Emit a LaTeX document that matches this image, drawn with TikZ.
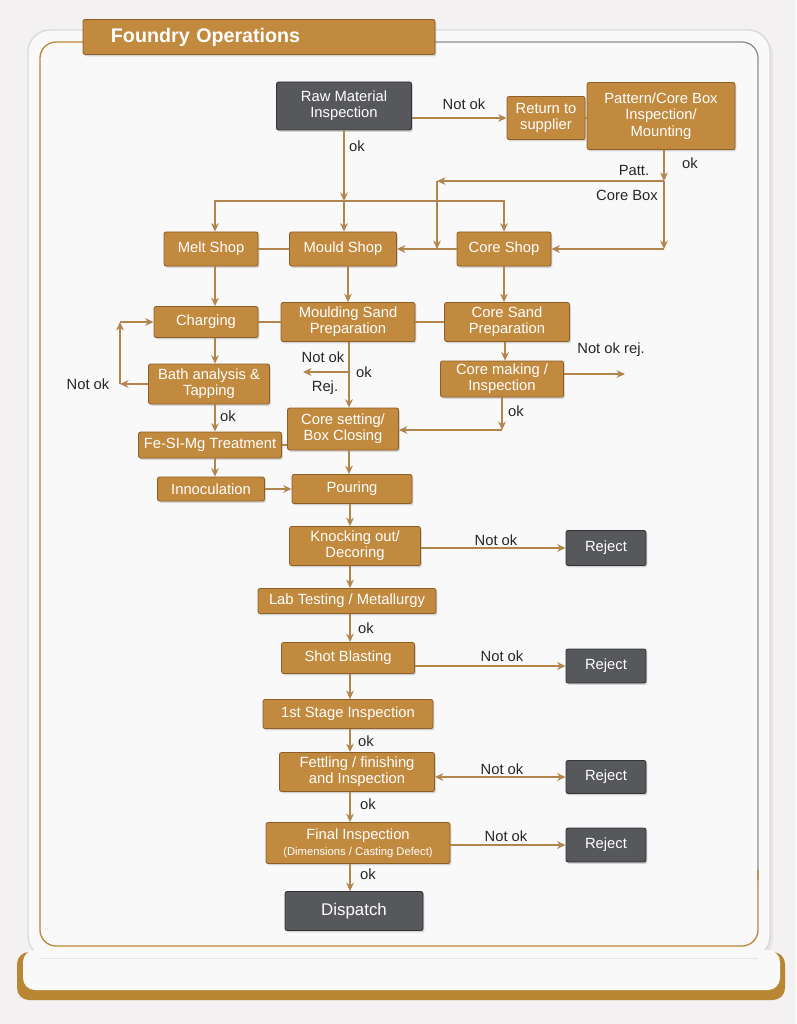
\documentclass[tikz,border=0pt]{standalone}
\usepackage{fontspec}
\setmainfont{Liberation Sans}
\usetikzlibrary{arrows.meta, shadows}

\definecolor{paper}{HTML}{F3F1F2}
\definecolor{boardwhite}{HTML}{FAF9FA}
\definecolor{boxgold}{HTML}{C18A3F}
\definecolor{goldedge}{HTML}{8C5F27}
\definecolor{boxdark}{HTML}{57585B}
\definecolor{darkedge}{HTML}{323335}
\definecolor{linegold}{HTML}{B2854C}
\definecolor{tipgold}{HTML}{94672C}
\definecolor{labelgray}{HTML}{262626}
\definecolor{rimgold}{HTML}{B98634}

\newcommand{\boxfont}{\fontsize{10.5}{11.6}\selectfont}

\tikzset{
  boxsize/.style 2 args={minimum width=#1*0.025cm, minimum height=#2*0.025cm},
  goldbox/.style={draw=goldedge, fill=boxgold, text=white, align=center, rounded corners=1.5pt,
    inner sep=1pt, line width=0.6pt, font=\boxfont,
    drop shadow={shadow xshift=1pt, shadow yshift=-1.3pt, opacity=0.3}},
  darkbox/.style={goldbox, draw=darkedge, fill=boxdark},
  flow/.style={draw=linegold, line width=1.1pt, ->},
  twoway/.style={draw=linegold, line width=1.1pt, <->},
  link/.style={draw=linegold, line width=1.1pt},
  lbl/.style={text=labelgray, font=\boxfont, inner sep=1pt},
}

\begin{document}
\begin{tikzpicture}[x=0.025cm, y=-0.025cm, >={Stealth[length=6pt, width=5.5pt, fill=tipgold]}]
\useasboundingbox[fill=paper] (0,0) rectangle (796,1024);

% board and stand
\draw[fill=boardwhite, draw=black!14, line width=1pt, rounded corners=0.55cm,
  drop shadow={shadow xshift=2pt, shadow yshift=-2pt, opacity=0.12}] (28,30) rectangle (770,958);
\draw[black!45, line width=0.9pt, rounded corners=0.4cm] (430,42) -- (758,42) -- (758,880);
\draw[rimgold, line width=0.9pt, rounded corners=0.4cm] (90,42) -- (40,42) -- (40,946) -- (758,946) -- (758,870);
\fill[rimgold, rounded corners=0.3cm] (17,952) rectangle (785,1000);
\fill[boardwhite, rounded corners=0.3cm] (23,950) rectangle (780,990);
\draw[black!10] (40,958) -- (758,958);

% title
\node[goldbox, boxsize={352}{35}, text width=7.4cm, align=left,
  font=\bfseries\fontsize{14}{16}\selectfont] (title) at (259,37) {Foundry Operations};

% column guides
\coordinate (colA) at (215,0);
\coordinate (colB) at (350,0);

% nodes
\node[darkbox, boxsize={135}{48}] (raw) at (344,106) {Raw Material\\Inspection};
\node[goldbox, boxsize={78}{43}] (ret) at (546,118) {Return to\\supplier};
\node[goldbox, boxsize={148}{67}] (patt) at (661,116) {Pattern/Core Box\\Inspection/\\Mounting};
\node[goldbox, boxsize={94}{34}] (melt) at (211,249) {Melt Shop};
\node[goldbox, boxsize={107}{34}] (mould) at (343,249) {Mould Shop};
\node[goldbox, boxsize={94}{34}] (core) at (504,249) {Core Shop};
\node[goldbox, boxsize={104}{31}] (charge) at (206,322) {Charging};
\node[goldbox, boxsize={134}{39}] (msand) at (348,322) {Moulding Sand\\Preparation};
\node[goldbox, boxsize={125}{39}] (csand) at (507,322) {Core Sand\\Preparation};
\node[goldbox, boxsize={121}{40}] (bath) at (209,384) {Bath analysis \&\\Tapping};
\node[goldbox, boxsize={123}{36}] (cmake) at (502,379) {Core making /\\Inspection};
\node[goldbox, boxsize={111}{42}] (cset) at (343,429) {Core setting/\\Box Closing};
\node[goldbox, boxsize={143}{26}] (fesimg) at (210,445) {Fe-SI-Mg Treatment};
\node[goldbox, boxsize={107}{24}] (innoc) at (211,489) {Innoculation};
\node[goldbox, boxsize={120}{29}] (pour) at (352,489) {Pouring};
\node[goldbox, boxsize={131}{39}] (knock) at (355,546) {Knocking out/\\Decoring};
\node[goldbox, boxsize={178}{25}] (lab) at (347,601) {Lab Testing / Metallurgy};
\node[goldbox, boxsize={133}{31}] (shot) at (348,658) {Shot Blasting};
\node[goldbox, boxsize={170}{29}] (stage) at (348,714) {1st Stage Inspection};
\node[goldbox, boxsize={155}{39}] (fettle) at (357,772) {Fettling / finishing\\and Inspection};
\node[goldbox, boxsize={184}{41}] (final) at (358,843) {Final Inspection\\{\fontsize{8}{9}\selectfont(Dimensions / Casting Defect)}};
\node[darkbox, boxsize={138}{39}, font=\fontsize{12}{14}\selectfont] (disp) at (354,911) {Dispatch};
\node[darkbox, boxsize={80}{35}] (rej1) at (606,548) {Reject};
\node[darkbox, boxsize={80}{34}] (rej2) at (606,666) {Reject};
\node[darkbox, boxsize={80}{33}] (rej3) at (606,777) {Reject};
\node[darkbox, boxsize={80}{34}] (rej4) at (606,845) {Reject};

% raw material and pattern routes
\coordinate (busM) at (344,201);
\coordinate (pj) at (664,181);
\coordinate (pc) at (664,249);
\coordinate (pl) at (437,181);
\draw[flow] (raw.east |- ret.west) -- (ret.west);
\draw[link] (ret.east) -- (ret.east -| patt.west);
\draw[flow] (raw.south) -- (busM);
\draw[flow] (busM) -- (busM |- mould.north);
\draw[flow] (busM) -| (colA |- melt.north);
\draw[flow] (busM) -| (core.north);
\draw[flow] (patt.south -| pj) -- (pj);
\draw[flow] (pj) -- (pc);
\draw[flow] (pc) -- (core.east);
\draw[flow] (pj) -- (pl);
\draw[flow] (pl) -- (pl |- mould.east);
\draw[flow] (core.west) -- (mould.east);
\draw[link] (melt.east) -- (mould.west);

% shops to preparation
\draw[flow] (melt.south -| colA) -- (charge.north -| colA);
\draw[flow] (mould.south -| msand) -- (msand.north);
\draw[flow] (core.south) -- (core.south |- csand.north);
\draw[link] (charge.east) -- (msand.west);
\draw[link] (msand.east) -- (csand.west);

% melting line
\coordinate (nokA) at (120,384);
\coordinate (nokB) at (120,322);
\draw[flow] (charge.south -| colA) -- (bath.north -| colA);
\draw[flow] (bath.west) -- (nokA);
\draw[flow] (nokA) -- (nokB);
\draw[flow] (nokB) -- (charge.west);
\draw[flow] (bath.south -| colA) -- (fesimg.north -| colA);
\draw[flow] (fesimg.south -| colA) -- (innoc.north -| colA);
\draw[link] (fesimg.east) -- (fesimg.east -| cset.west);
\draw[flow] (innoc.east) -- (innoc.east -| pour.west);

% moulding and core line
\coordinate (rejM) at (349,372);
\coordinate (rejL) at (303,372);
\coordinate (ckA) at (502,430);
\coordinate (cmR) at (625,374);
\draw[flow] (msand.south -| rejM) -- (cset.north -| rejM);
\draw[flow] (rejM) -- (rejL);
\draw[flow] (csand.south -| 505,0) -- (cmake.north -| 505,0);
\draw[flow] (cmake.east |- cmR) -- (cmR);
\draw[flow] (cmake.south) -- (ckA);
\draw[flow] (ckA) -- (ckA -| cset.east);
\draw[flow] (cset.south -| rejM) -- (pour.north -| rejM);

% finishing line
\draw[flow] (pour.south -| colB) -- (knock.north -| colB);
\draw[flow] (knock.south -| colB) -- (lab.north -| colB);
\draw[flow] (lab.south -| colB) -- (shot.north -| colB);
\draw[flow] (shot.south -| colB) -- (stage.north -| colB);
\draw[flow] (stage.south -| colB) -- (fettle.north -| colB);
\draw[flow] (fettle.south -| colB) -- (final.north -| colB);
\draw[flow] (final.south -| colB) -- (disp.north -| colB);
\draw[flow] (knock.east |- rej1.west) -- (rej1.west);
\draw[flow] (shot.east |- rej2.west) -- (rej2.west);
\draw[twoway] (fettle.east |- rej3.west) -- (rej3.west);
\draw[flow] (final.east |- rej4.west) -- (rej4.west);

% labels
\node[lbl] (lnok1) at (464,104) {Not ok};
\node[lbl] (lok1) at (357,146) {ok};
\node[lbl] (lok2) at (690,163) {ok};
\node[lbl] (lpatt) at (634,170) {Patt.};
\node[lbl] (lcbox) at (627,195) {Core Box};
\node[lbl] (lnok2) at (88,384) {Not ok};
\node[lbl] (lnok3) at (323,357) {Not ok};
\node[lbl] (lrej) at (325,388) {Rej.};
\node[lbl] (lok3) at (364,372) {ok};
\node[lbl] (lnokrej) at (611,350) {Not ok rej.};
\node[lbl] (lok4) at (516,411) {ok};
\node[lbl] (lok5) at (228,416) {ok};
\node[lbl] (lnok4) at (496,540) {Not ok};
\node[lbl] (lok6) at (366,628) {ok};
\node[lbl] (lnok5) at (502,656) {Not ok};
\node[lbl] (lok7) at (366,741) {ok};
\node[lbl] (lnok6) at (502,769) {Not ok};
\node[lbl] (lok8) at (368,804) {ok};
\node[lbl] (lnok7) at (506,836) {Not ok};
\node[lbl] (lok9) at (368,874) {ok};
\end{tikzpicture}
\end{document}
